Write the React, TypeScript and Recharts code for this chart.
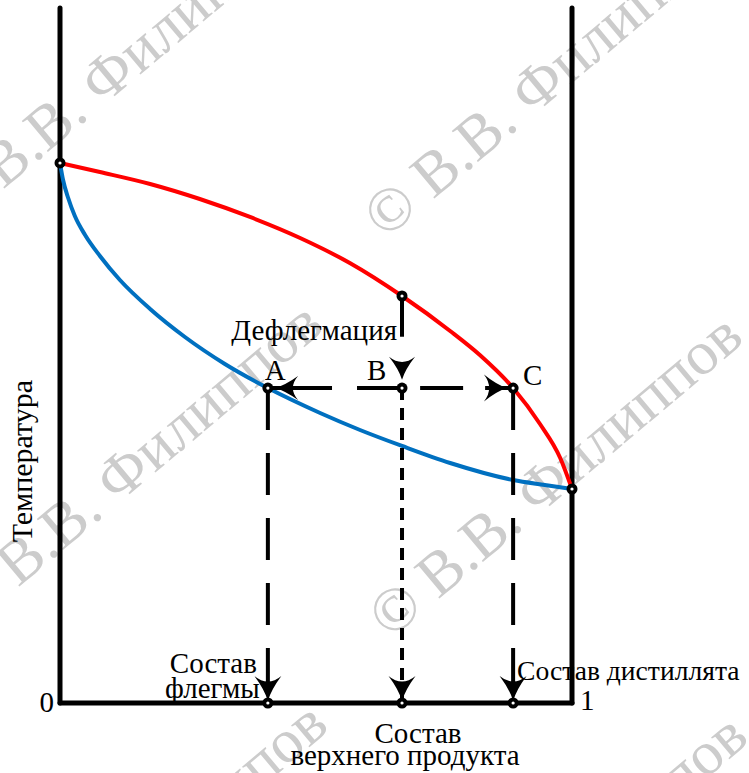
import React from "react";
import {
  ComposedChart,
  Line,
  XAxis,
  YAxis,
  ReferenceLine,
  ReferenceDot,
} from "recharts";

// composition (mole fraction of light component) and temperature (relative units)
const dewX = [0, 0.078, 0.176, 0.273, 0.371, 0.469, 0.566, 0.668, 0.762, 0.82, 0.885, 0.9375, 0.977, 1];
const dewT = [77.7, 76.4, 74.68, 72.52, 69.93, 66.91, 63.31, 58.56, 53.53, 50.07, 45.32, 40.14, 35.25, 30.79];

const boilX = [0, 0.006, 0.016, 0.029, 0.049, 0.078, 0.117, 0.176, 0.244, 0.322, 0.406, 0.508, 0.586, 0.668, 0.762, 0.885, 0.947, 1];
const boilT = [77.7, 75.25, 72.66, 70.07, 67.34, 64.32, 60.86, 56.69, 52.66, 48.78, 45.32, 41.73, 39.28, 36.98, 34.53, 32.09, 31.37, 30.79];

// A - reflux, B - top product, C - distillate
const compA = 0.406;
const compB = 0.668;
const compC = 0.885;
const levelT = 45.32;
const vaporT = 58.56;
const stubEndT = 52.7;
const arrowBT = 46.5;
const arrowAX = 0.42;
const arrowCX = 0.873;

const dewData = dewX.map((x, i) => ({ x, t: dewT[i] }));
const boilData = boilX.map((x, i) => ({ x, t: boilT[i] }));

const FONT = "'Liberation Serif', 'Times New Roman', serif";

const dotShape = (p: any) => (
  <g>
    <circle cx={p.cx} cy={p.cy} r={5.5} fill="#000" />
    <circle cx={p.cx} cy={p.cy} r={1.6} fill="#fff" />
  </g>
);

const arrowShape = (angle: number, L: number, W: number) => (p: any) => (
  <path
    transform={`translate(${p.cx},${p.cy}) rotate(${angle})`}
    d={`M0,0 Q${-L * 0.45},${-W * 0.12} ${-L},${-W / 2} Q${-L * 0.55},0 ${-L},${W / 2} Q${-L * 0.45},${W * 0.12} 0,0 Z`}
    fill="#000"
  />
);

const label = (
  key: string,
  x: number,
  y: number,
  text: string,
  dx: number,
  dy: number,
  anchor: "start" | "middle" | "end" = "start",
  rotate = 0,
  size = 29
) => (
  <ReferenceDot
    key={key}
    x={x}
    y={y}
    r={0}
    ifOverflow="visible"
    shape={(p: any) => (
      <text
        x={p.cx + dx}
        y={p.cy + dy}
        textAnchor={anchor}
        fontFamily={FONT}
        fontSize={size}
        fill="#000"
        transform={rotate ? `rotate(${rotate}, ${p.cx + dx}, ${p.cy + dy})` : undefined}
      >
        {text}
      </text>
    )}
  />
);

const marks: [number, number][] = [
  [0, dewT[0]],
  [1, dewT[dewT.length - 1]],
  [compA, levelT],
  [compB, levelT],
  [compC, levelT],
  [compB, vaporT],
  [compA, 0],
  [compB, 0],
  [compC, 0],
];

const wmOrigins: [number, number][] = [
  [385, 240],
  [-45, 230],
  [390, 640],
  [-30, 628],
  [395, 1040],
  [-25, 1028],
];

const Watermark = () => (
  <svg width={749} height={773} style={{ position: "absolute", left: 0, top: 0 }}>
    {wmOrigins.map(([x, y], i) => (
      <text
        key={i}
        x={x}
        y={y}
        fontFamily={FONT}
        fontSize={62}
        fill="#cccccc"
        transform={`rotate(-40, ${x}, ${y})`}
      >
        © В.В. Филиппов
      </text>
    ))}
  </svg>
);

export default function App() {
  const frame = { stroke: "#000", strokeWidth: 5, strokeLinecap: "round" as const };
  return (
    <div style={{ position: "absolute", left: 0, top: 0, width: 749, height: 773, background: "#fff" }}>
      <Watermark />
      <div style={{ position: "absolute", left: 0, top: 0 }}>
        <ComposedChart width={749} height={773} margin={{ top: 8, right: 177, bottom: 70, left: 60 }}>
          <XAxis type="number" dataKey="x" domain={[0, 1]} hide />
          <YAxis type="number" domain={[0, 100]} hide />

          <ReferenceLine x={0} {...frame} />
          <ReferenceLine x={1} {...frame} />
          <ReferenceLine y={0} {...frame} />

          <Line data={boilData} dataKey="t" type="monotone" stroke="#0070c0" strokeWidth={4} dot={false} isAnimationActive={false} />
          <Line data={dewData} dataKey="t" type="monotone" stroke="#ff0000" strokeWidth={4} dot={false} isAnimationActive={false} />

          <ReferenceLine segment={[{ x: compB, y: vaporT }, { x: compB, y: stubEndT }]} stroke="#000" strokeWidth={4} />
          <ReferenceLine segment={[{ x: compB, y: levelT }, { x: compA, y: levelT }]} stroke="#000" strokeWidth={4} strokeDasharray="45 25 100 0" />
          <ReferenceLine segment={[{ x: compC, y: levelT }, { x: compB, y: levelT }]} stroke="#000" strokeWidth={4} strokeDasharray="28 22 43 30" />
          <ReferenceLine segment={[{ x: compA, y: levelT }, { x: compA, y: 0 }]} stroke="#000" strokeWidth={4} strokeDasharray="42 23" />
          <ReferenceLine segment={[{ x: compC, y: levelT }, { x: compC, y: 0 }]} stroke="#000" strokeWidth={4} strokeDasharray="42 23" />
          <ReferenceLine segment={[{ x: compB, y: levelT }, { x: compB, y: 0 }]} stroke="#000" strokeWidth={4} strokeDasharray="12 8" />

          <ReferenceDot x={compB} y={arrowBT} r={0} ifOverflow="visible" shape={arrowShape(90, 23, 26)} />
          <ReferenceDot x={arrowAX} y={levelT} r={0} ifOverflow="visible" shape={arrowShape(180, 23, 24)} />
          <ReferenceDot x={arrowCX} y={levelT} r={0} ifOverflow="visible" shape={arrowShape(0, 23, 27)} />
          {[compA, compB, compC].map((c, i) => (
            <ReferenceDot key={`ba${i}`} x={c} y={0.3} r={0} ifOverflow="visible" shape={arrowShape(90, 25, 27)} />
          ))}

          {marks.map(([x, y], i) => (
            <ReferenceDot key={`m${i}`} x={x} y={y} r={5} ifOverflow="visible" shape={dotShape} />
          ))}

          {label("l0", 0, 0, "0", -6, 9, "end")}
          {label("l1", 1, 0, "1", 8, 7, "start")}
          {label("lt", 0, 34.8, "Температура", -28, 0, "middle", -90, 30)}
          {label("ld", compB, vaporT, "Дефлегмация", -5, 44, "end")}
          {label("la", compA, levelT, "A", -3, -8, "start")}
          {label("lb", compB, levelT, "B", -35, -8, "start")}
          {label("lc", compC, levelT, "C", 10, -3, "start")}
          {label("lf1", compA, 0, "Состав", -11, -30, "end")}
          {label("lf2", compA, 0, "флегмы", -8, -5, "end")}
          {label("ls1", compB, 0, "Состав", 16, 40, "middle")}
          {label("ls2", compB, 0, "верхнего продукта", 3, 62, "middle")}
          {label("lk", compC, 0, "Состав дистиллята", 4, -23, "start", 0, 27.6)}
        </ComposedChart>
      </div>
    </div>
  );
}
